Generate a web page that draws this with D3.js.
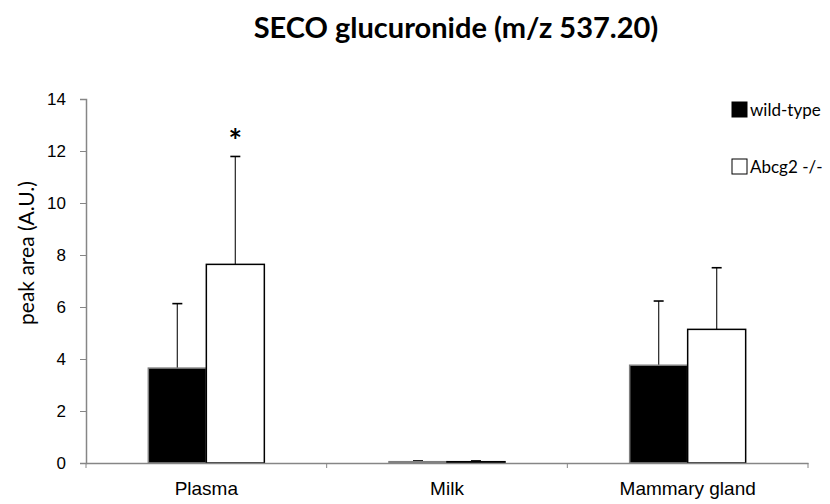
<!DOCTYPE html>
<html>
<head>
<meta charset="utf-8">
<script src="https://cdn.jsdelivr.net/npm/d3@7"></script>
<style>
  body { margin: 0; background: #fff; }
  svg { display: block; font-family: Lato, "Open Sans", sans-serif; }
</style>
</head>
<body>
<svg id="chart" width="830" height="504"></svg>
<script>
const categories = ["Plasma", "Milk", "Mammary gland"];
const seriesNames = ["wild-type", "Abcg2 -/-"];
const wildType = [3.65, 0.05, 3.76];
const wildTypeErr = [2.48, 0.03, 2.47];
const knockout = [7.64, 0.05, 5.14];
const knockoutErr = [4.15, 0.03, 2.37];
const yTicks = [0, 2, 4, 6, 8, 10, 12, 14];
const significant = [true, false, false]; // asterisk over Abcg2 -/- bar

const svg = d3.select("#chart");
const margin = { left: 86, right: 22, top: 99, bottom: 41 };
const width = 830, height = 504;

const x = d3.scaleBand()
  .domain(categories)
  .range([margin.left, width - margin.right]);

const y = d3.scaleLinear()
  .domain([0, 14])
  .range([height - margin.bottom, margin.top]);

const barW = 58;
const fills = ["#000000", "#ffffff"];
const strokes = ["#7f7f7f", "#000000"];

// title
svg.append("text")
  .attr("x", 456)
  .attr("y", 38)
  .attr("text-anchor", "middle")
  .style("font-size", "29px")
  .style("font-weight", "bold")
  .text("SECO glucuronide (m/z 537.20)");

// y axis
const yAxis = svg.append("g")
  .attr("transform", `translate(${margin.left},0)`)
  .call(d3.axisLeft(y).tickValues(yTicks).tickSize(6).tickPadding(14));
yAxis.select(".domain").attr("stroke", "#868686").attr("stroke-width", 1.5);
yAxis.selectAll(".tick line").attr("stroke", "#868686");
yAxis.selectAll(".tick text").style("font-size", "17px").attr("fill", "#000");

svg.append("text")
  .attr("transform", `translate(34,253) rotate(-90)`)
  .attr("text-anchor", "middle")
  .style("font-size", "21px")
  .text("peak area (A.U.)");

// bars
const rows = categories.map((c, i) => ({
  cat: c,
  vals: [
    { s: 0, v: wildType[i], e: wildTypeErr[i] },
    { s: 1, v: knockout[i], e: knockoutErr[i] }
  ],
  sig: significant[i]
}));

const groups = svg.selectAll("g.cat")
  .data(rows)
  .enter()
  .append("g")
    .attr("class", "cat")
    .attr("transform", d => `translate(${x(d.cat) + x.bandwidth() / 2},0)`);

groups.selectAll("line.err")
  .data(d => d.vals)
  .enter()
  .append("line")
    .attr("x1", d => (d.s - 0.5) * barW)
    .attr("x2", d => (d.s - 0.5) * barW)
    .attr("y1", d => y(d.v))
    .attr("y2", d => y(d.v + d.e))
    .attr("stroke", "#333")
    .attr("stroke-width", 1.3);

groups.selectAll("line.cap")
  .data(d => d.vals)
  .enter()
  .append("line")
    .attr("x1", d => (d.s - 0.5) * barW - 5)
    .attr("x2", d => (d.s - 0.5) * barW + 5)
    .attr("y1", d => y(d.v + d.e))
    .attr("y2", d => y(d.v + d.e))
    .attr("stroke", "#000")
    .attr("stroke-width", 1.6);

groups.selectAll("rect")
  .data(d => d.vals)
  .enter()
  .append("rect")
    .attr("x", d => (d.s - 1) * barW)
    .attr("y", d => y(d.v))
    .attr("width", barW)
    .attr("height", d => y(0) - y(d.v))
    .attr("fill", d => fills[d.s])
    .attr("stroke", d => strokes[d.s])
    .attr("stroke-width", 1.5);

groups.filter(d => d.sig)
  .append("text")
    .attr("x", barW / 2)
    .attr("y", d => y(d.vals[1].v + d.vals[1].e) - 3)
    .attr("text-anchor", "middle")
    .style("font-size", "32px")
    .style("font-weight", "bold")
    .text("*");

// x axis
const xAxis = svg.append("g")
  .attr("transform", `translate(0,${y(0)})`)
  .call(d3.axisBottom(x).tickSize(0).tickSizeOuter(0));
xAxis.select(".domain").attr("stroke", "#868686").attr("stroke-width", 1.5);
xAxis.selectAll(".tick text")
  .attr("y", 32)
  .attr("dy", null)
  .style("font-size", "19px")
  .attr("fill", "#000");

const bounds = [margin.left, ...categories.map(c => x(c) + x.bandwidth())];
xAxis.selectAll("line.sep")
  .data(bounds)
  .enter()
  .append("line")
    .attr("x1", d => d)
    .attr("x2", d => d)
    .attr("y1", 0)
    .attr("y2", 5)
    .attr("stroke", "#868686");

// legend
const legend = svg.selectAll("g.legend")
  .data(seriesNames)
  .enter()
  .append("g")
    .attr("class", "legend")
    .attr("transform", (d, i) => `translate(732,${102 + i * 57})`);

legend.append("rect")
  .attr("width", 15)
  .attr("height", 15)
  .attr("fill", (d, i) => fills[i])
  .attr("stroke", "#000")
  .attr("stroke-width", 1);

legend.append("text")
  .attr("x", 18)
  .attr("y", 14)
  .style("font-size", "17px")
  .text(d => d);
</script>
</body>
</html>
